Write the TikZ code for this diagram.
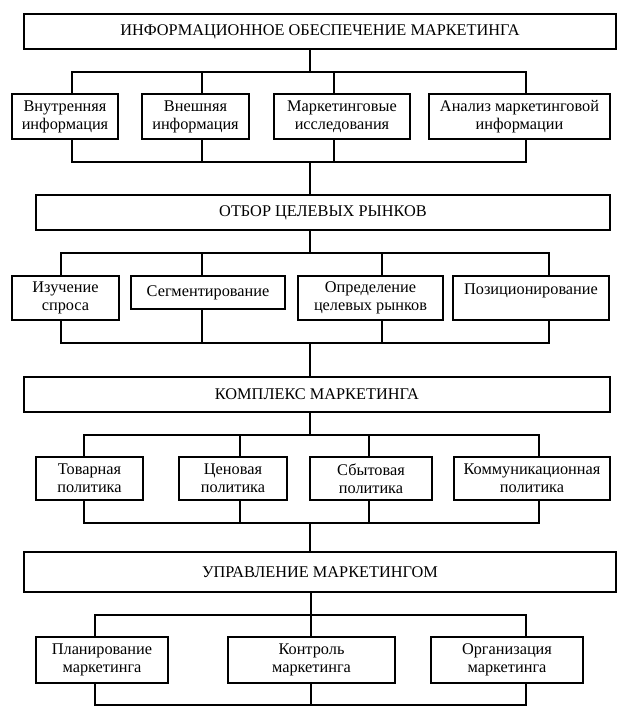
\documentclass[tikz,border=0pt]{standalone}
\usepackage{fontspec}
\setmainfont{Liberation Serif}
\begin{document}
\begin{tikzpicture}[x=1pt,y=-1pt,
  box/.style={draw=black, line width=1.1pt, inner sep=0pt, align=center,
    font=\fontsize{16.3}{18}\selectfont},
  wire/.style={draw=black, line width=1.1pt}]
\useasboundingbox (0,0) rectangle (633,715);
% level 1
\node[box, minimum width=592pt, minimum height=35pt] (T1) at (320,31.5) {ИНФОРМАЦИОННОЕ ОБЕСПЕЧЕНИЕ МАРКЕТИНГА};
\node[box, minimum width=106pt, minimum height=45pt] (A1) at (65,116.5) {Внутренняя\\информация};
\node[box, minimum width=107pt, minimum height=45pt] (A2) at (195.5,116.5) {Внешняя\\информация};
\node[box, minimum width=136pt, minimum height=45pt] (A3) at (342,116.5) {Маркетинговые\\исследования};
\node[box, minimum width=181pt, minimum height=45pt] (A4) at (519.5,116.5) {Анализ маркетинговой\\информации};
% level 2
\node[box, minimum width=574pt, minimum height=35pt] (T2) at (323,212.5) {ОТБОР ЦЕЛЕВЫХ РЫНКОВ};
\node[box, minimum width=107pt, minimum height=44pt] (B1) at (65.5,298) {Изучение\\спроса};
\node[box, minimum width=154pt, minimum height=33pt] (B2) at (208,292.5) {Сегментирование};
\node[box, minimum width=145pt, minimum height=44pt] (B3) at (370.5,298) {Определение\\целевых рынков};
\node[box, minimum width=156pt, minimum height=44pt] (B4) at (531,298) {Позиционирование\\\mbox{}};
% level 3
\node[box, minimum width=586pt, minimum height=35pt] (T3) at (317,394.5) {КОМПЛЕКС МАРКЕТИНГА};
\node[box, minimum width=107pt, minimum height=43pt] (C1) at (89.5,478.5) {Товарная\\политика};
\node[box, minimum width=108pt, minimum height=43pt] (C2) at (233,478.5) {Ценовая\\политика};
\node[box, minimum width=122pt, minimum height=43pt] (C3) at (371,478.5) {Сбытовая\\политика};
\node[box, minimum width=156pt, minimum height=43pt] (C4) at (532,478.5) {Коммуникационная\\политика};
% level 4
\node[box, minimum width=592pt, minimum height=40pt] (T4) at (320,572) {УПРАВЛЕНИЕ МАРКЕТИНГОМ};
\node[box, minimum width=132pt, minimum height=46pt] (D1) at (102,660) {Планирование\\маркетинга};
\node[box, minimum width=167pt, minimum height=46pt] (D2) at (311.5,660) {Контроль\\маркетинга};
\node[box, minimum width=152pt, minimum height=46pt] (D3) at (507,660) {Организация\\маркетинга};

% ---- connectors, group 1
\coordinate (m1) at (310,72);
\coordinate (p1a) at (72,72);  \coordinate (p1b) at (202,72);
\coordinate (p1c) at (334,72); \coordinate (p1d) at (526,72);
\coordinate (q1a) at (72,162);  \coordinate (q1b) at (202,162);
\coordinate (q1c) at (334,162); \coordinate (q1d) at (526,162);
\coordinate (m2) at (310,162);
\draw[wire] (T1.south -| m1) -- (m1);
\draw[wire] (A1.north -| p1a) -- (p1a) -- (p1d) -- (A4.north -| p1d);
\draw[wire] (p1b) -- (A2.north -| p1b);
\draw[wire] (p1c) -- (A3.north -| p1c);
\draw[wire] (A1.south -| q1a) -- (q1a) -- (q1d) -- (A4.south -| q1d);
\draw[wire] (A2.south -| q1b) -- (q1b);
\draw[wire] (A3.south -| q1c) -- (q1c);
\draw[wire] (m2) -- (T2.north -| m2);

% ---- group 2
\coordinate (m3) at (310,253);
\coordinate (p2a) at (61,253);  \coordinate (p2b) at (202,253);
\coordinate (p2c) at (382,253); \coordinate (p2d) at (549,253);
\coordinate (q2a) at (61,343);  \coordinate (q2b) at (202,343);
\coordinate (q2c) at (382,343); \coordinate (q2d) at (549,343);
\coordinate (m4) at (310,343);
\draw[wire] (T2.south -| m3) -- (m3);
\draw[wire] (B1.north -| p2a) -- (p2a) -- (p2d) -- (B4.north -| p2d);
\draw[wire] (p2b) -- (B2.north -| p2b);
\draw[wire] (p2c) -- (B3.north -| p2c);
\draw[wire] (B1.south -| q2a) -- (q2a) -- (q2d) -- (B4.south -| q2d);
\draw[wire] (B2.south -| q2b) -- (q2b);
\draw[wire] (B3.south -| q2c) -- (q2c);
\draw[wire] (m4) -- (T3.north -| m4);

% ---- group 3
\coordinate (m5) at (310,435);
\coordinate (p3a) at (84,435);  \coordinate (p3b) at (240,435);
\coordinate (p3c) at (369,435); \coordinate (p3d) at (539,435);
\coordinate (q3a) at (84,523);  \coordinate (q3b) at (240,523);
\coordinate (q3c) at (369,523); \coordinate (q3d) at (539,523);
\coordinate (m6) at (310,523);
\draw[wire] (T3.south -| m5) -- (m5);
\draw[wire] (C1.north -| p3a) -- (p3a) -- (p3d) -- (C4.north -| p3d);
\draw[wire] (p3b) -- (C2.north -| p3b);
\draw[wire] (p3c) -- (C3.north -| p3c);
\draw[wire] (C1.south -| q3a) -- (q3a) -- (q3d) -- (C4.south -| q3d);
\draw[wire] (C2.south -| q3b) -- (q3b);
\draw[wire] (C3.south -| q3c) -- (q3c);
\draw[wire] (m6) -- (T4.north -| m6);

% ---- group 4
\coordinate (p4a) at (95,615);  \coordinate (p4b) at (311,615);
\coordinate (p4c) at (526,615);
\coordinate (q4a) at (95,705);  \coordinate (q4b) at (311,705);
\coordinate (q4c) at (526,705);
\draw[wire] (T4.south -| p4b) -- (p4b) -- (D2.north -| p4b);
\draw[wire] (D1.north -| p4a) -- (p4a) -- (p4c) -- (D3.north -| p4c);
\draw[wire] (D1.south -| q4a) -- (q4a) -- (q4c) -- (D3.south -| q4c);
\draw[wire] (D2.south -| q4b) -- (q4b);
\end{tikzpicture}
\end{document}
